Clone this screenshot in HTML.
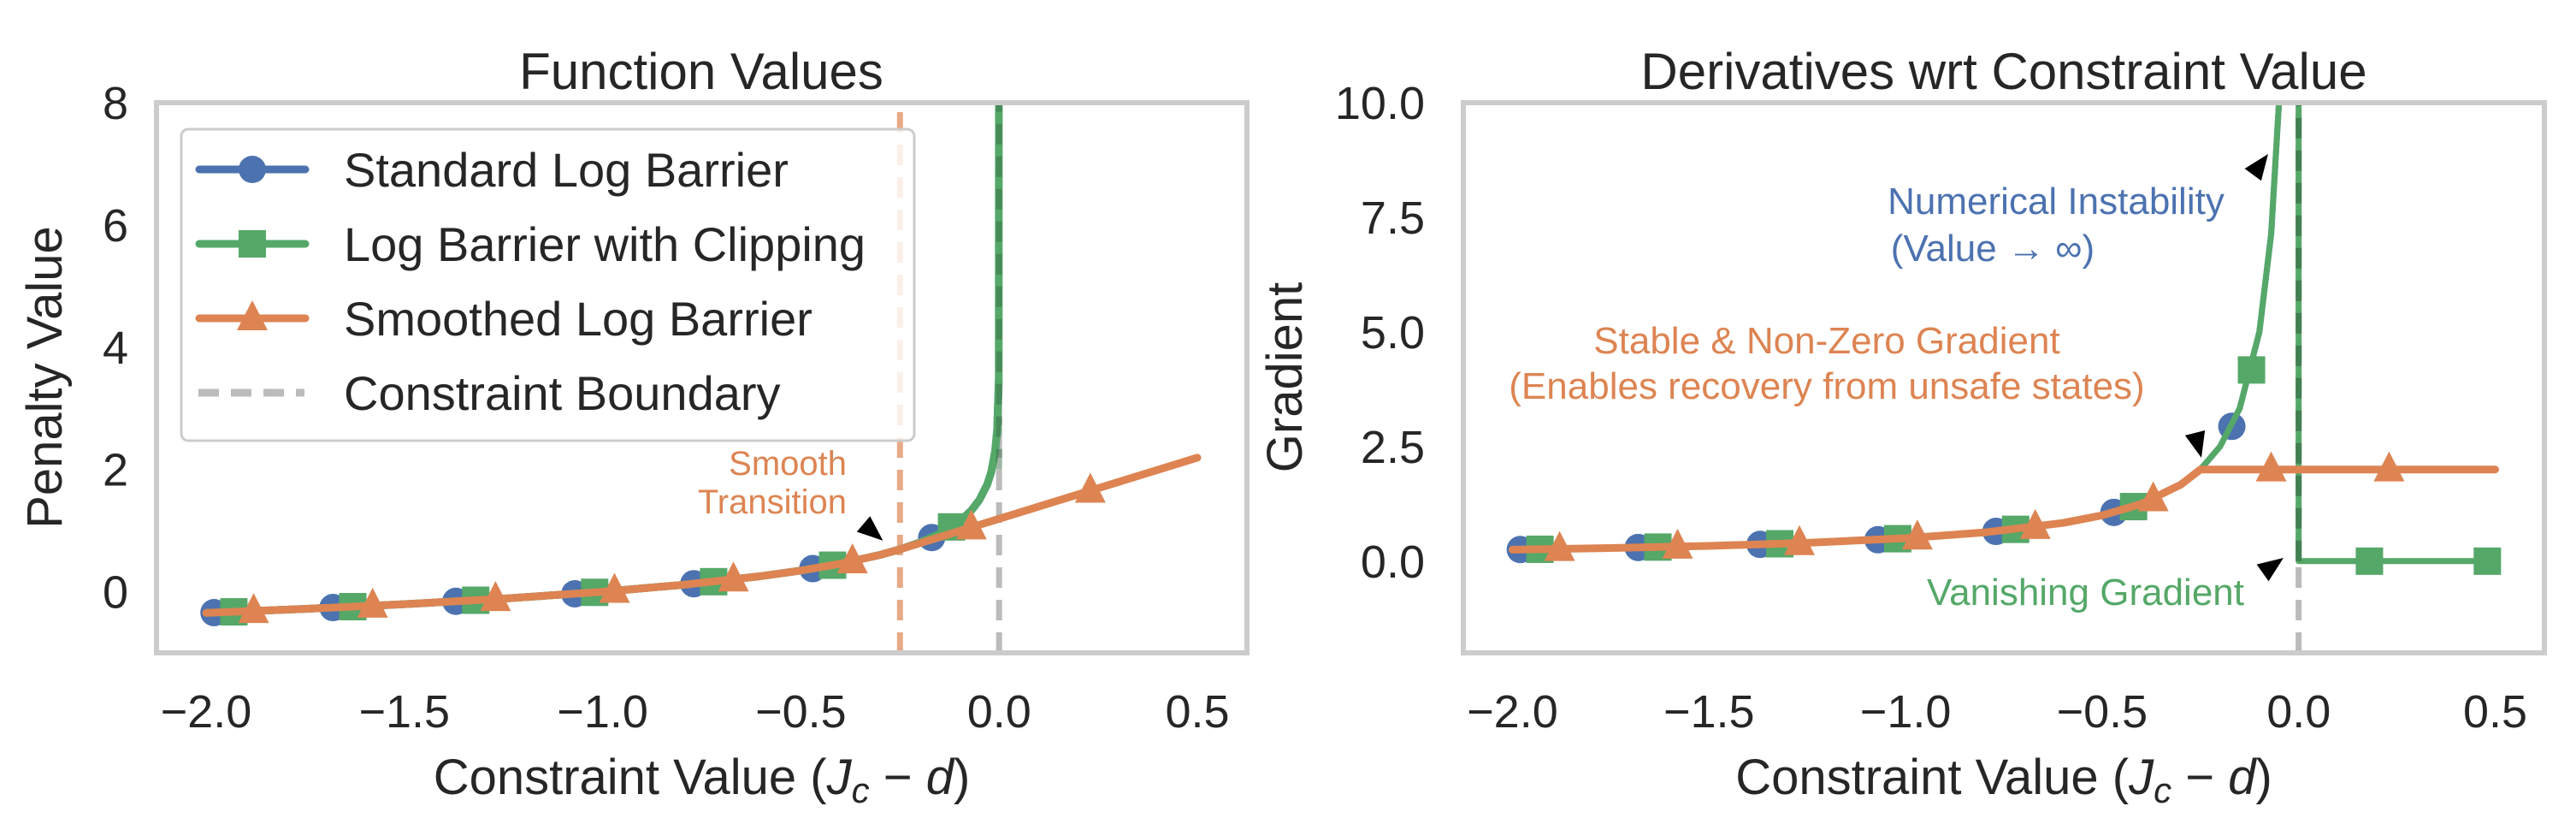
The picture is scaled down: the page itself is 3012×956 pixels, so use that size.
<!DOCTYPE html>
<html><head><meta charset="utf-8"><style>
html,body{margin:0;padding:0;background:#fff;}
svg{display:block;font-family:"Liberation Sans",Arial,sans-serif;}
</style></head><body>
<svg id="fig" width="3012" height="956" viewBox="0 0 3012 956" xmlns="http://www.w3.org/2000/svg">
<defs>
<clipPath id="clipL"><rect x="183" y="120" width="1275" height="643"/></clipPath>
<clipPath id="clipR"><rect x="1711" y="120" width="1264" height="643"/></clipPath>
</defs>
<g id="left"></g>
<g id="right"></g>
</svg>
<script>
// ---- data ----
const curveX = [-2,-1.75,-1.5,-1.25,-1,-0.8,-0.6,-0.5,-0.4,-0.3,-0.25,-0.2,-0.15,-0.1,-0.07,-0.05,-0.03,-0.02,-0.01,-0.005,-0.001];
const stdValues = [-0.347,-0.280,-0.203,-0.112,0,0.112,0.255,0.347,0.458,0.602,0.693,0.805,0.949,1.151,1.330,1.498,1.753,1.956,2.303,2.649,3.454];
const clipValuesX = [-2,-1.75,-1.5,-1.25,-1,-0.8,-0.6,-0.5,-0.4,-0.3,-0.25,-0.2,-0.15,-0.1,-0.07,-0.05,-0.03,-0.02,-0.01,-0.005,-0.001,0];
const clipValues = [-0.347,-0.280,-0.203,-0.112,0,0.112,0.255,0.347,0.458,0.602,0.693,0.805,0.949,1.151,1.330,1.498,1.753,1.956,2.303,2.649,3.454,20];
const smoothX = [-2,-1.75,-1.5,-1.25,-1,-0.8,-0.6,-0.5,-0.4,-0.3,-0.25,-0.1,0,0.25,0.5];
const smoothValues = [-0.347,-0.280,-0.203,-0.112,0,0.112,0.255,0.347,0.458,0.602,0.693,0.993,1.193,1.693,2.193];
const gradX = [-2,-1.75,-1.5,-1.25,-1,-0.8,-0.6,-0.5,-0.4,-0.3,-0.25,-0.2,-0.15,-0.1,-0.07,-0.05,-0.04,-0.02,-0.01];
const stdGrad = [0.25,0.286,0.333,0.4,0.5,0.625,0.833,1.0,1.25,1.667,2,2.5,3.333,5,7.14,10,12.5,25,50];
const clipGradX = [-2,-1.75,-1.5,-1.25,-1,-0.8,-0.6,-0.5,-0.4,-0.3,-0.25,-0.2,-0.15,-0.1,-0.07,-0.05,-0.04,-0.02,-0.01,0,0,0.5];
const clipGrad = [0.25,0.286,0.333,0.4,0.5,0.625,0.833,1.0,1.25,1.667,2,2.5,3.333,5,7.14,10,12.5,25,50,50,0,0];
const smoothGradX = [-2,-1.75,-1.5,-1.25,-1,-0.8,-0.6,-0.5,-0.4,-0.3,-0.25,0.5];
const smoothGrad = [0.25,0.286,0.333,0.4,0.5,0.625,0.833,1.0,1.25,1.667,2,2];
const stdMarkX = [-1.98,-1.68,-1.37,-1.07,-0.77,-0.47,-0.17];
const stdMarkVal = [-0.342,-0.259,-0.157,-0.034,0.131,0.378,0.886];
const stdMarkGrad = [0.253,0.298,0.365,0.467,0.649,1.064,2.94];
const clipMarkX = [-1.93,-1.63,-1.32,-1.02,-0.72,-0.42,-0.12];
const clipMarkVal = [-0.329,-0.244,-0.139,-0.010,0.164,0.434,1.060];
const clipMarkGX = [-1.93,-1.63,-1.32,-1.02,-0.72,-0.42,-0.12,0.18,0.48];
const clipMarkGrad = [0.259,0.307,0.379,0.490,0.694,1.190,4.17,0,0];
const smMarkX = [-1.88,-1.58,-1.27,-0.97,-0.67,-0.37,-0.07,0.23];
const smMarkVal = [-0.316,-0.229,-0.120,0.015,0.200,0.497,1.053,1.653];
const smMarkGrad = [0.266,0.316,0.394,0.515,0.746,1.351,2,2];
const xTicks = [-2.0,-1.5,-1.0,-0.5,0.0,0.5];
const xTickLabels = ["\u22122.0","\u22121.5","\u22121.0","\u22120.5","0.0","0.5"];
const yTicksL = [0,2,4,6,8];
const yTickLabelsL = ["0","2","4","6","8"];
const yTicksR = [0,2.5,5,7.5,10];
const yTickLabelsR = ["0.0","2.5","5.0","7.5","10.0"];
const smoothT = -0.25;
const boundary = 0;

const NS="http://www.w3.org/2000/svg";
const C={blue:"#4c72b0",green:"#55a868",orange:"#dd8452",grey:"#bbbbbb",text:"#262626"};
function mk(tag,attrs,parent){const e=document.createElementNS(NS,tag);for(const k in attrs)e.setAttribute(k,attrs[k]);parent.appendChild(e);return e;}
function axes(x0,x1,y0,y1,xmin,xmax,ymin,ymax){
  return {sx:v=>x0+(v-xmin)/(xmax-xmin)*(x1-x0), sy:v=>y1-(v-ymin)/(ymax-ymin)*(y1-y0), x0,x1,y0,y1};
}
function line(g,ax,xs,ys,color,w,name,dash){
  const d=xs.map((x,i)=>(i?"L":"M")+ax.sx(x).toFixed(1)+","+ax.sy(ys[i]).toFixed(1)).join(" ");
  const p=mk("path",{d:d,fill:"none",stroke:color,"stroke-width":w,"stroke-linejoin":"round","stroke-linecap":"round"},g);
  if(dash){p.setAttribute("stroke-dasharray",dash);p.setAttribute("stroke-linecap","butt");}
  
  
  return p;
}
function marker(g,type,cx,cy,color,name){
  let e;
  if(type==="o") e=mk("circle",{cx:cx,cy:cy,r:16,fill:color},g);
  else if(type==="s") e=mk("rect",{x:cx-16,y:cy-16,width:32,height:32,fill:color},g);
  else e=mk("polygon",{points:`${cx},${cy-21} ${cx-18},${cy+14} ${cx+18},${cy+14}`,fill:color},g);
  
  
}
function markers(g,ax,xs,ys,type,color,name){
  xs.forEach((x,i)=>{const y=ys[i]; if(y===null)return; marker(g,type,ax.sx(x),ax.sy(y),color,name);});
}
function text(g,x,y,str,size,color,anchor,name,extra){
  const t=mk("text",{x:x,y:y,"font-size":size,fill:color,"text-anchor":anchor||"middle"},g);
  if(extra)for(const k in extra)t.setAttribute(k,extra[k]);
  t.textContent=str;
  
  
  return t;
}
function arrowHead(g,tipX,tipY,fromX,fromY,name){
  const a=Math.atan2(tipY-fromY,tipX-fromX),L=30,W=12;
  const bx=tipX-L*Math.cos(a),by=tipY-L*Math.sin(a);
  const px=-Math.sin(a)*W,py=Math.cos(a)*W;
  const p=mk("polygon",{points:`${tipX},${tipY} ${bx+px},${by+py} ${bx-px},${by-py}`,fill:"#000"},g);
  
  
}
function frameAndTicks(g,ax,yt,ytl,ylabel,title,tickRight,titleX){
  xTicks.forEach((v,i)=>text(g,ax.sx(v),850,xTickLabels[i],54,C.text,"middle","x-tick-label"));
  yt.forEach((v,i)=>text(g,tickRight,ax.sy(v)+19,ytl[i],54,C.text,"end","y-tick-label"));
  const xl=text(g,(ax.x0+ax.x1)/2,928,"",58,C.text,"middle","x-axis-title");
  xl.innerHTML='Constraint Value (<tspan font-style="italic">J</tspan><tspan font-style="italic" font-size="42" dy="10">c</tspan><tspan dy="-10"> \u2212 </tspan><tspan font-style="italic">d</tspan>)';
  text(g,titleX,104,title,60,C.text,"middle","chart-title");
}
function frame(g,ax){
  const r=mk("rect",{x:ax.x0,y:ax.y0,width:ax.x1-ax.x0,height:ax.y1-ax.y0,fill:"none",stroke:"#cccccc","stroke-width":6},g);
  
  
}

// ---- left panel ----
(function(){
  const g=document.getElementById("left");
  const ax=axes(183,1458,120,763,-2.125,0.625,-1,8);
  const pg=mk("g",{"clip-path":"url(#clipL)"},g);
  line(pg,ax,[smoothT,smoothT],[-1,8],C.orange,7,"smooth-threshold-line","24,14").setAttribute("opacity","0.7");
  line(pg,ax,[boundary,boundary],[-1,8],C.grey,7,"constraint-boundary-line","24,14");
  line(pg,ax,curveX,stdValues,C.blue,9,"standard-log-barrier-line");
  markers(pg,ax,stdMarkX,stdMarkVal,"o",C.blue,"standard-marker");
  line(pg,ax,clipValuesX,clipValues,C.green,9,"clipped-log-barrier-line");
  line(pg,ax,[boundary,boundary],[2,8],"#3a6e48",7,"clipped-vertical-overlay","24,14").setAttribute("opacity","0.5");
  markers(pg,ax,clipMarkX,clipMarkVal,"s",C.green,"clipped-marker");
  line(pg,ax,smoothX,smoothValues,C.orange,9,"smoothed-log-barrier-line");
  markers(pg,ax,smMarkX,smMarkVal,"^",C.orange,"smoothed-marker");
  text(g,990,555,"Smooth",40,C.orange,"end","smooth-transition-label");
  text(g,990,600,"Transition",40,C.orange,"end","smooth-transition-label-2");
  arrowHead(g,ax.sx(-0.28)-6,ax.sy(0.78)-4,995,600,"smooth-transition-arrow");
  const lg=mk("g",{},g);  
  mk("rect",{x:212,y:151,width:857,height:364,rx:8,fill:"#ffffff","fill-opacity":0.82,stroke:"#cccccc","stroke-width":3},lg);
  const ent=[["Standard Log Barrier",C.blue,"o"],["Log Barrier with Clipping",C.green,"s"],["Smoothed Log Barrier",C.orange,"^"],["Constraint Boundary",C.grey,"-"]];
  ent.forEach((e,i)=>{
    const y=198+i*87;
    const eg=mk("g",{},lg);  
    if(e[2]==="-"){mk("line",{x1:232,y1:y,x2:356,y2:y,stroke:e[1],"stroke-width":9,"stroke-dasharray":"24,14"},eg);}
    else{mk("line",{x1:233,y1:y,x2:357,y2:y,stroke:e[1],"stroke-width":9,"stroke-linecap":"round"},eg);marker(eg,e[2],295,y,e[1],"legend-marker");}
    text(eg,402,y+20,e[0],56,C.text,"start","legend-label");
  });
  frame(g,ax);
  frameAndTicks(g,ax,yTicksL,yTickLabelsL,"Penalty Value","Function Values",150,820);
  text(g,0,0,"Penalty Value",58,C.text,"middle","y-axis-title",{transform:"translate(72,441) rotate(-90)"});
})();

// ---- right panel ----
(function(){
  const g=document.getElementById("right");
  const ax=axes(1711,2975,120,763,-2.125,0.625,-2,10);
  const pg=mk("g",{"clip-path":"url(#clipR)"},g);
  line(pg,ax,[boundary,boundary],[-2,10],C.grey,7,"constraint-boundary-line","24,14");
  line(pg,ax,gradX,stdGrad,C.blue,7,"standard-gradient-line");
  markers(pg,ax,stdMarkX,stdMarkGrad,"o",C.blue,"standard-marker");
  line(pg,ax,clipGradX,clipGrad,C.green,7,"clipped-gradient-line");
  line(pg,ax,[boundary,boundary],[0,10],"#3a6e48",7,"clipped-drop-overlay","24,14").setAttribute("opacity","0.7");
  markers(pg,ax,clipMarkGX,clipMarkGrad,"s",C.green,"clipped-marker");
  line(pg,ax,smoothGradX,smoothGrad,C.orange,9,"smoothed-gradient-line");
  markers(pg,ax,smMarkX,smMarkGrad,"^",C.orange,"smoothed-marker");
  text(g,2404,250,"Numerical Instability",44,C.blue,"middle","numerical-instability-label");
  text(g,2330,305,"(Value \u2192 \u221e)",44,C.blue,"middle","numerical-instability-label-2");
  arrowHead(g,2652,180,2630,210,"instability-arrow");
  text(g,2136,413,"Stable & Non-Zero Gradient",44,C.orange,"middle","stable-gradient-label");
  text(g,2136,466,"(Enables recovery from unsafe states)",44,C.orange,"middle","stable-gradient-label-2");
  arrowHead(g,2574,535,2565,500,"stable-gradient-arrow");
  text(g,2624,707,"Vanishing Gradient",44,C.green,"end","vanishing-gradient-label");
  arrowHead(g,2670,652,2642,672,"vanishing-gradient-arrow");
  frame(g,ax);
  frameAndTicks(g,ax,yTicksR,yTickLabelsR,"Gradient","Derivatives wrt Constraint Value",1666,2343);
  text(g,0,0,"Gradient",58,C.text,"middle","y-axis-title",{transform:"translate(1522,441) rotate(-90)"});
})();
</script>
</body></html>
